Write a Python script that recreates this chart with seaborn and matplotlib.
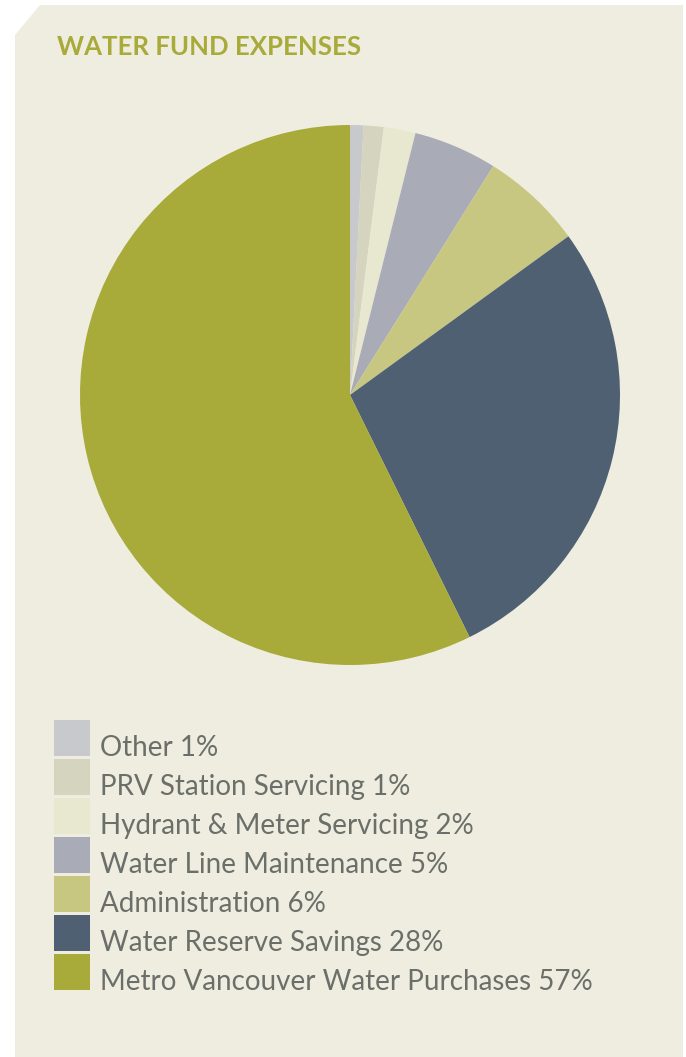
import matplotlib
matplotlib.use("Agg")
import matplotlib.pyplot as plt
from matplotlib.patches import Polygon, Rectangle
import seaborn as sns

sns.set_theme(style="white")
plt.rcParams['font.family'] = ['Lato', 'DejaVu Sans']

title = "WATER FUND EXPENSES"
categories = ["Other", "PRV Station Servicing", "Hydrant & Meter Servicing",
              "Water Line Maintenance", "Administration", "Water Reserve Savings",
              "Metro Vancouver Water Purchases"]
values = [0.8, 1.2, 1.9, 5.0, 6.1, 27.7, 57.3]
labels_pct = ["1%", "1%", "2%", "5%", "6%", "28%", "57%"]
colors = ["#c8c9cc", "#d5d5bf", "#e8e8d0", "#a9abb6", "#c7c782", "#4e6072", "#a8aa3a"]

BG = "#efede0"
TXT = "#6b6f69"
W, H = 686, 1057
fig = plt.figure(figsize=(W / 100, H / 100), dpi=100)
fig.patch.set_facecolor("white")

# panel with cut corner
panel = Polygon([(15 / W, 1 - 35 / H), (40 / W, 1 - 5 / H), (683 / W, 1 - 5 / H),
                 (683 / W, 0), (15 / W, 0)], closed=True, transform=fig.transFigure,
                facecolor=BG, edgecolor="none", zorder=-10)
fig.patches.append(panel)

fig.text(57 / W, 1 - 47 / H, title, color="#a8aa3a", fontsize=18.5,
         fontweight="bold", ha="left", va="center")

# pie
cx, cy, r = 350, 395, 270
ax = fig.add_axes([(cx - r) / W, 1 - (cy + r) / H, 2 * r / W, 2 * r / H])
ax.set_facecolor("none")
ax.pie(values, colors=colors, startangle=90, counterclock=False,
       wedgeprops=dict(linewidth=0, edgecolor="none"))
ax.set_xlim(-1, 1)
ax.set_ylim(-1, 1)
ax.set_aspect("equal")
ax.axis("off")

# legend (pixel-unit axes)
lx, ly, lw, lh = 54, 720, W - 54, 280
lax = fig.add_axes([lx / W, 1 - (ly + lh) / H, lw / W, lh / H])
lax.set_xlim(0, lw)
lax.set_ylim(lh, 0)
lax.axis("off")
sq, pitch = 36, 39
for i, (c, p, col) in enumerate(zip(categories, labels_pct, colors)):
    lax.add_patch(Rectangle((0, i * pitch), sq, sq, facecolor=col, edgecolor="none"))
    lax.text(46, i * pitch + sq, f"{c} {p}", color=TXT, fontsize=20,
             ha="left", va="baseline")

fig.savefig("out.png", dpi=100, facecolor=fig.get_facecolor())
